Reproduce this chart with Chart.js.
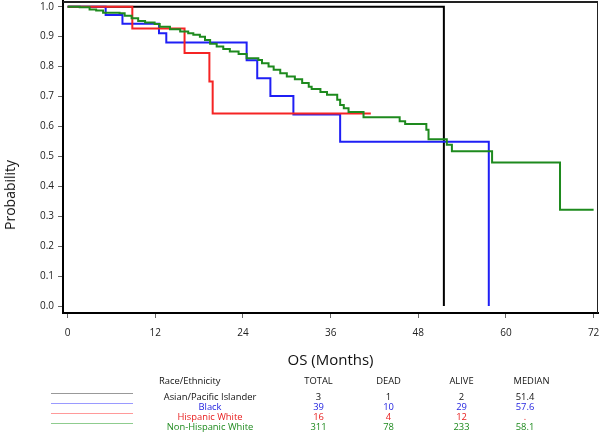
<!DOCTYPE html>
<html><head><meta charset="utf-8">
<script src="https://cdn.jsdelivr.net/npm/chart.js@4.4.0/dist/chart.umd.min.js"></script>
<style>
html,body{margin:0;padding:0;background:#fff;}
#wrap{position:relative;width:600px;height:432px;overflow:hidden;font-family:"Open Sans",sans-serif;}
#c{position:absolute;left:0;top:0;}
.t{position:absolute;white-space:nowrap;height:12px;line-height:12px;font-size:9.4px;}
.c{transform:translateX(-50%);}
.ln{position:absolute;height:1px;}
.fr{position:absolute;background:#222;}
#ytitle{position:absolute;left:9.5px;top:195px;font-size:14px;line-height:16px;white-space:nowrap;transform:translate(-50%,-50%) rotate(-90deg);color:#111;}
</style></head>
<body><div id="wrap"><canvas id="c" width="600" height="432"></canvas>
<div class="fr" style="left:63px;top:1px;width:535px;height:1.5px;"></div>
<div class="fr" style="left:596.5px;top:1px;width:1.5px;height:312px;"></div>
<div id="ytitle">Probability</div></div>
<script>
// ---- data ----
const xTickValues = [0, 12, 24, 36, 48, 60, 72];
const yTickValues = [0, 0.1, 0.2, 0.3, 0.4, 0.5, 0.6, 0.7, 0.8, 0.9, 1.0];

const groups = ["Asian/Pacific Islander", "Black", "Hispanic White", "Non-Hispanic White"];
const totals = ["3", "39", "16", "311"];
const deads = ["1", "10", "4", "78"];
const alives = ["2", "29", "12", "233"];
const medians = ["51.4", "57.6", ".", "58.1"];

const asianTimes = [0, 51.5];
const asianSurv = [1.0, 0.0];

const blackTimes = [0, 5.2, 7.5, 12.5, 13.5, 24.5, 25.95, 27.75, 30.9, 37.3, 57.65];
const blackSurv = [1.0, 0.972, 0.943, 0.911, 0.88, 0.821, 0.761, 0.702, 0.64, 0.549, 0.0];

const hispTimes = [0, 8.85, 16.0, 19.4, 19.85, 41.5];
const hispSurv = [1.0, 0.927, 0.845, 0.75, 0.643, 0.643];

const nhwTimes = [0, 1.65, 3.0, 3.9, 4.85, 7.1, 7.8, 8.75, 9.65, 10.6, 11.9, 12.6, 14.0, 15.4, 16.5, 17.2, 18.1, 18.8, 19.5, 20.4, 21.3, 22.2, 23.4, 24.5, 26.1, 26.6, 27.5, 28.2, 29.1, 30.0, 31.1, 32.1, 33.0, 33.4, 34.6, 35.5, 36.9, 37.3, 37.8, 38.45, 40.5, 45.45, 46.2, 49.1, 49.4, 51.9, 52.6, 58.1, 67.4, 72.0];
const nhwSurv = [1.0, 0.998, 0.991, 0.987, 0.98, 0.978, 0.97, 0.961, 0.952, 0.947, 0.942, 0.933, 0.925, 0.917, 0.911, 0.906, 0.9, 0.889, 0.876, 0.867, 0.859, 0.85, 0.842, 0.828, 0.822, 0.811, 0.8, 0.789, 0.778, 0.767, 0.758, 0.745, 0.733, 0.725, 0.715, 0.706, 0.689, 0.672, 0.661, 0.648, 0.631, 0.617, 0.608, 0.589, 0.557, 0.539, 0.517, 0.48, 0.322, 0.322];

// ---- styles ----
const curveColors = ["#000000", "#1f1ff5", "#f52424", "#1e8a1e"];
const textColors = ["#111111", "#2424e0", "#e82020", "#1e8a1e"];
const swatchColors = ["#999999", "#9a9aff", "#ff9a9a", "#8fcc8f"];

const pts = (t, s) => t.map((x, i) => ({x: x, y: s[i]}));
const ds = (label, t, s, col) => ({label, data: pts(t, s), borderColor: col, borderWidth: 2, pointRadius: 0, fill: false, stepped: 'before', tension: 0});

const FONT = '"Open Sans", sans-serif';
const noPad = s => { s.paddingTop = 0; s.paddingBottom = 0; s.paddingLeft = 0; s.paddingRight = 0; };
new Chart(document.getElementById('c'), {
  type: 'line',
  data: {
    datasets: [
      ds(groups[3], nhwTimes, nhwSurv, curveColors[3]),
      ds(groups[2], hispTimes, hispSurv, curveColors[2]),
      ds(groups[1], blackTimes, blackSurv, curveColors[1]),
      ds(groups[0], asianTimes, asianSurv, curveColors[0])
    ]
  },
  options: {
    responsive: false,
    animation: false,
    layout: {padding: {left: 0, right: 2, top: 1, bottom: 0}},
    plugins: {legend: {display: false}, tooltip: {enabled: false}},
    scales: {
      x: {
        type: 'linear', min: -0.64, max: 72.6,
        afterBuildTicks: s => { s.ticks = xTickValues.map(v => ({value: v})); },
        afterFit: s => { s.height = 119; noPad(s); },
        grid: {display: true, drawOnChartArea: false, drawTicks: true, tickLength: 5, color: '#666', tickColor: '#666', lineWidth: 1},
        border: {display: true, color: '#000', width: 2},
        ticks: {font: {family: FONT, size: 10}, color: '#222', padding: 9, maxRotation: 0, autoSkip: false, callback: v => String(v)},
        title: {display: true, text: 'OS (Months)', font: {family: FONT, size: 15}, color: '#111', padding: {top: 0, bottom: 62}}
      },
      y: {
        type: 'linear', min: -0.023, max: 1.019,
        afterBuildTicks: s => { s.ticks = yTickValues.map(v => ({value: v})); },
        afterFit: s => { s.width = 63; noPad(s); },
        grid: {display: true, drawOnChartArea: false, drawTicks: true, tickLength: 5, color: '#666', tickColor: '#666', lineWidth: 1},
        border: {display: true, color: '#000', width: 2},
        ticks: {font: {family: FONT, size: 10}, color: '#222', padding: 4, autoSkip: false, callback: v => v.toFixed(1)}
      }
    }
  }
});

// ---- table below the chart ----
const wrap = document.getElementById('wrap');
function addText(txt, cx, cy, color, center) {
  const d = document.createElement('div');
  d.className = 't' + (center ? ' c' : '');
  d.textContent = txt;
  d.style.left = cx + 'px';
  d.style.top = (cy - 6) + 'px';
  d.style.color = color;
  wrap.appendChild(d);
}
const headerY = 381.3;
addText('Race/Ethnicity', 159, headerY, '#111', false);
addText('TOTAL', 318.5, headerY, '#111', true);
addText('DEAD', 388.5, headerY, '#111', true);
addText('ALIVE', 461.5, headerY, '#111', true);
addText('MEDIAN', 531.5, headerY, '#111', true);
const rowY = [397, 406.8, 416.6, 426.5];
const swY = [393, 403, 413, 423];
groups.forEach((g, i) => {
  addText(g, 210, rowY[i], textColors[i], true);
  addText(totals[i], 318.5, rowY[i], textColors[i], true);
  addText(deads[i], 388.5, rowY[i], textColors[i], true);
  addText(alives[i], 461.5, rowY[i], textColors[i], true);
  addText(medians[i], 525, rowY[i], textColors[i], true);
  const l = document.createElement('div');
  l.className = 'ln';
  l.style.left = '51px';
  l.style.width = '82px';
  l.style.top = swY[i] + 'px';
  l.style.background = swatchColors[i];
  wrap.appendChild(l);
});
</script>
</body></html>
